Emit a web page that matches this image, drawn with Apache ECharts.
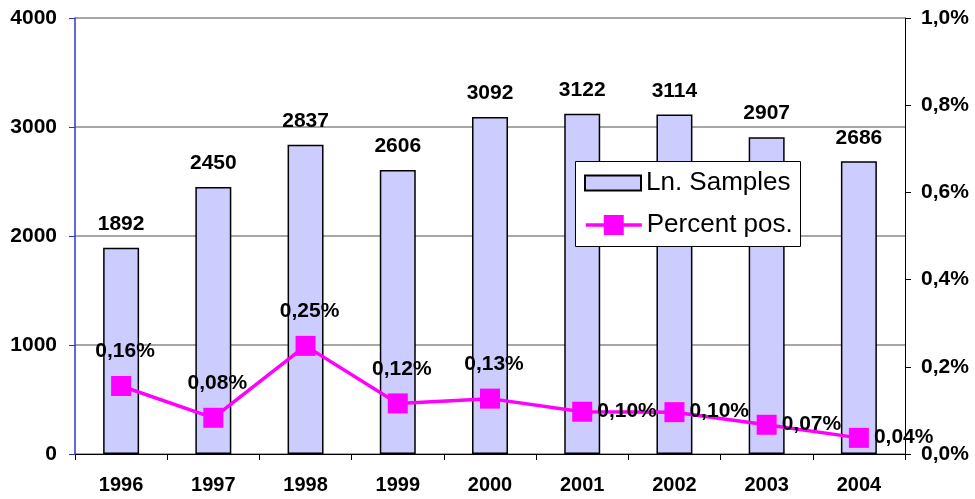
<!DOCTYPE html>
<html><head><meta charset="utf-8">
<script src="https://cdn.jsdelivr.net/npm/echarts@6/dist/echarts.min.js"></script>
<style>html,body{margin:0;padding:0;background:#fff}#c{width:975px;height:499px}</style>
</head><body><div id="c"></div>
<script>
const years = ['1996','1997','1998','1999','2000','2001','2002','2003','2004'];
const samples = [1892, 2450, 2837, 2606, 3092, 3122, 3114, 2907, 2686];
const percentPos = [0.156, 0.083, 0.248, 0.116, 0.127, 0.097, 0.096, 0.067, 0.037];
const leftTicks = [0, 1000, 2000, 3000, 4000];
const rightTicks = [0, 0.2, 0.4, 0.6, 0.8, 1.0];

const FONT = '"Liberation Sans", Arial, sans-serif';
const pct = v => v.toFixed(2).replace('.', ',') + '%';
const legendText = {fontFamily: FONT, fontSize: 26, color: '#000', lineHeight: 28};

const chart = echarts.init(document.getElementById('c'), null, {renderer: 'canvas'});
chart.setOption({
  animation: false,
  backgroundColor: '#fff',
  grid: {left: 75, right: 70, top: 18, bottom: 45},
  graphic: [{
    type: 'rect', z: 10, left: 575, top: 161,
    shape: {width: 225, height: 85},
    style: {fill: '#fff', stroke: '#000', lineWidth: 1}
  }],
  legend: [{
    left: 584, top: 169, padding: 0, z: 20,
    itemWidth: 56, itemHeight: 15, itemGap: 5,
    textStyle: legendText,
    data: [{name: 'Ln. Samples', icon: 'rect'}]
  }, {
    left: 584, top: 211, padding: 0, z: 20,
    itemWidth: 56, itemHeight: 25,
    lineStyle: {width: 3.5},
    textStyle: legendText,
    data: ['Percent pos.']
  }],
  xAxis: {
    type: 'category', data: years,
    axisLine: {lineStyle: {color: '#000', width: 1}},
    axisTick: {show: true, length: 6, lineStyle: {color: '#000'}},
    axisLabel: {fontFamily: FONT, fontSize: 20, fontWeight: 'bold', color: '#000', margin: 21}
  },
  yAxis: [{
    type: 'value', min: leftTicks[0], max: leftTicks[leftTicks.length-1], interval: 1000,
    axisLine: {show: true, lineStyle: {color: '#3333cc', width: 1.5}},
    axisTick: {show: true, length: 6, lineStyle: {color: '#3333cc'}},
    splitLine: {lineStyle: {color: '#888', width: 1.5}},
    axisLabel: {fontFamily: FONT, fontSize: 21, fontWeight: 'bold', color: '#000', margin: 18,
      formatter: v => String(v)}
  }, {
    type: 'value', min: rightTicks[0], max: rightTicks[rightTicks.length-1], interval: 0.2,
    position: 'right',
    axisLine: {show: true, lineStyle: {color: '#000', width: 1}},
    axisTick: {show: true, length: 6, inside: false, lineStyle: {color: '#000'}},
    splitLine: {show: false},
    axisLabel: {fontFamily: FONT, fontSize: 21, fontWeight: 'bold', color: '#000', margin: 16,
      formatter: v => v.toFixed(1).replace('.', ',') + '%'}
  }],
  series: [{
    name: 'Ln. Samples', type: 'bar', yAxisIndex: 0, z: 2,
    data: samples, barWidth: '39%',
    itemStyle: {color: '#ccccff', borderColor: '#000', borderWidth: 1.5},
    label: {show: true, position: 'top', distance: 13, fontFamily: FONT, fontSize: 21,
      fontWeight: 'bold', color: '#000'}
  }, {
    name: 'Percent pos.', type: 'line', yAxisIndex: 1, z: 5,
    data: percentPos.map((v, i) => ({
      value: v,
      label: i < 5 ? {position: 'top', distance: 14, offset: [4, 0]} : {position: 'right', distance: 5, offset: [0, -1]}
    })),
    symbol: 'rect', symbolSize: 20,
    lineStyle: {color: '#ff00ff', width: 3.5},
    itemStyle: {color: '#ff00ff'},
    label: {show: true, fontFamily: FONT, fontSize: 21, fontWeight: 'bold', color: '#000',
      formatter: p => pct(p.value)}
  }]
});
</script></body></html>
